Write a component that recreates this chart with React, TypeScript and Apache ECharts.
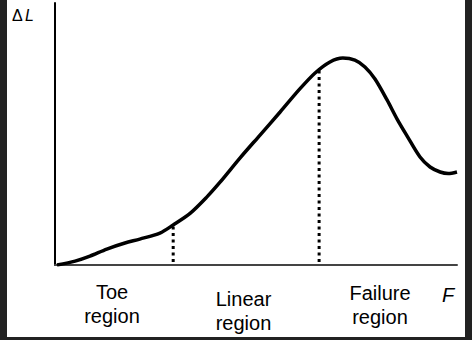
import React, { useEffect, useRef } from "react";
import * as echarts from "echarts";

// Force F (normalised 0–100) vs elongation ΔL (normalised 0–100)
const curveF = [0.5, 5.0, 8.7, 12.9, 17.4, 21.1, 26.1, 29.4, 33.6, 37.8, 41.0, 46.0, 51.0, 56.0, 60.9, 64.7, 68.4, 71.6, 74.6, 77.1, 79.6, 82.6, 85.1, 87.6, 90.8, 93.3, 95.8, 97.8, 100];
const curveDL = [0, 1.5, 3.4, 6.1, 8.4, 9.9, 12.2, 15.3, 19.7, 26.0, 31.5, 40.8, 49.6, 58.4, 67.2, 73.3, 77.5, 79.0, 78.2, 75.6, 71.0, 63.0, 55.7, 49.2, 41.2, 37.4, 35.5, 34.9, 35.5];

// Region boundaries (F value, ΔL top of dotted line)
const boundaryF = [29.4, 65.7];
const boundaryTop = [14.6, 74.4];
const boundaryBottom = 1.1;

const regionLabels = [
  { lines: ["Toe", "region"], x: 112, y: 292 },
  { lines: ["Linear", "region"], x: 243.5, y: 299 },
  { lines: ["Failure", "region"], x: 380, y: 293 },
];

export default function App() {
  const ref = useRef<HTMLDivElement>(null);
  useEffect(() => {
    if (!ref.current) return;
    const chart = echarts.init(ref.current, null, { renderer: "svg" });
    const font = "'Liberation Sans', Arial, Helvetica, sans-serif";
    const graphics: any[] = [
      { type: "rect", shape: { x: 0, y: 0, width: 7, height: 340 }, style: { fill: "#222" } },
      { type: "rect", shape: { x: 465, y: 0, width: 7, height: 340 }, style: { fill: "#222" } },
      { type: "rect", shape: { x: 0, y: 337, width: 472, height: 3 }, style: { fill: "#222" } },
      {
        type: "text",
        x: 12,
        y: 15,
        style: { text: "Δ", fontFamily: font, fontSize: 16, fill: "#000", verticalAlign: "middle" },
      },
      {
        type: "text",
        x: 25,
        y: 15,
        style: { text: "L", fontFamily: font, fontSize: 16, fontStyle: "italic", fill: "#000", verticalAlign: "middle" },
      },
      {
        type: "text",
        x: 448,
        y: 295,
        style: { text: "F", fontFamily: font, fontSize: 20, fontStyle: "italic", fill: "#000", align: "center", verticalAlign: "middle" },
      },
    ];
    regionLabels.forEach((r) => {
      r.lines.forEach((t, i) => {
        graphics.push({
          type: "text",
          x: r.x,
          y: r.y + i * 24,
          style: { text: t, fontFamily: font, fontSize: 20, fill: "#000", align: "center", verticalAlign: "middle" },
        });
      });
    });

    const dotted = boundaryF.map((f, i) => ({
      type: "line",
      data: [
        [f, boundaryBottom],
        [f, boundaryTop[i]],
      ],
      symbol: "none",
      z: 1,
      lineStyle: { color: "#000", width: 3, type: [3, 3.5] },
    }));

    chart.setOption({
      animation: false,
      backgroundColor: "#fff",
      grid: { left: 55, right: 15, top: 3, bottom: 75 },
      xAxis: {
        type: "value",
        min: 0,
        max: 100,
        axisLine: { show: true, onZero: false, lineStyle: { color: "#444", width: 2 } },
        axisTick: { show: false },
        axisLabel: { show: false },
        splitLine: { show: false },
      },
      yAxis: {
        type: "value",
        min: 0,
        max: 100,
        axisLine: { show: true, lineStyle: { color: "#000", width: 2 } },
        axisTick: { show: false },
        axisLabel: { show: false },
        splitLine: { show: false },
      },
      series: [
        {
          type: "line",
          data: curveF.map((f, i) => [f, curveDL[i]]),
          smooth: 0.3,
          symbol: "none",
          z: 3,
          lineStyle: { color: "#000", width: 3.5 },
        },
        ...dotted,
      ],
      graphic: graphics,
    });
    return () => chart.dispose();
  }, []);
  return (
    <div style={{ position: "fixed", left: 0, top: 0, width: 472, height: 340 }}>
      <div ref={ref} style={{ width: 472, height: 340 }} />
    </div>
  );
}
